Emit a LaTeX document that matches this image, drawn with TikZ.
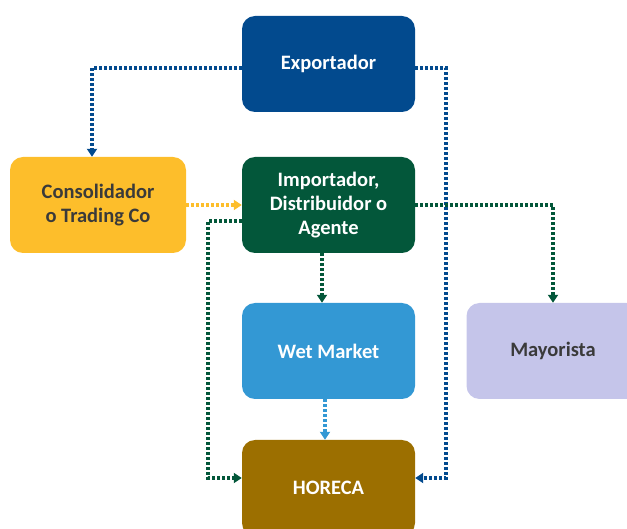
\documentclass[tikz,border=0pt]{standalone}
\usepackage{fontspec}
\setmainfont{Carlito}
\usetikzlibrary{arrows.meta}
\definecolor{cexp}{HTML}{024A8E}
\definecolor{cimp}{HTML}{03573A}
\definecolor{ccon}{HTML}{FDBE2B}
\definecolor{cwet}{HTML}{3398D4}
\definecolor{cmay}{HTML}{C5C5EA}
\definecolor{chor}{HTML}{9C6F00}
\definecolor{ctxt}{HTML}{3A3A3A}
\tikzset{
  box/.style={rounded corners=13pt, minimum width=173pt, minimum height=96pt, inner sep=0pt,
    align=center, font=\fontsize{20.5}{24}\selectfont\bfseries, text=white},
  link/.style={line width=3.2pt, dash pattern=on 2.4pt off 2.6pt, -{Triangle[length=8pt,width=10pt]}}
}
\begin{document}
\begin{tikzpicture}[x=1pt,y=-1pt]
\useasboundingbox (0,0) rectangle (627,529);
\clip (0,0) rectangle (627,529);
\node[box, fill=cexp] (exp) at (328.5,64) {Exportador};
\node[box, fill=ccon, text=ctxt, minimum width=176pt] (con) at (98,205) {Consolidador\\o Trading Co};
\node[box, fill=cimp] (imp) at (328.5,205) {Importador,\\Distribuidor o\\Agente};
\node[box, fill=cwet] (wet) at (328.5,351) {Wet Market};
\node[box, fill=cmay, text=ctxt] (may) at (553,351) {Mayorista};
\node[box, fill=chor] (hor) at (328.5,488) {HORECA};
\coordinate (hl) at (hor.west |- 0,478);
\coordinate (hr) at (hor.east |- 0,478);
\draw[link, draw=cexp] (exp.west |- 0,68) -| (92,0 |- con.north) ;
\draw[link, draw=cexp] (exp.east |- 0,68) -- (446,68) |- (hr);
\draw[link, draw=ccon] (con.east) -- (imp.west);
\draw[link, draw=cimp] (imp.west |- 0,221) -- (208,221) |- (hl);
\draw[link, draw=cimp] (imp.east) -| (may.north);
\draw[link, draw=cimp] (322,0 |- imp.south) -- (322,0 |- wet.north);
\draw[link, draw=cwet] (325,0 |- wet.south) -- (325,0 |- hor.north);
\end{tikzpicture}
\end{document}
